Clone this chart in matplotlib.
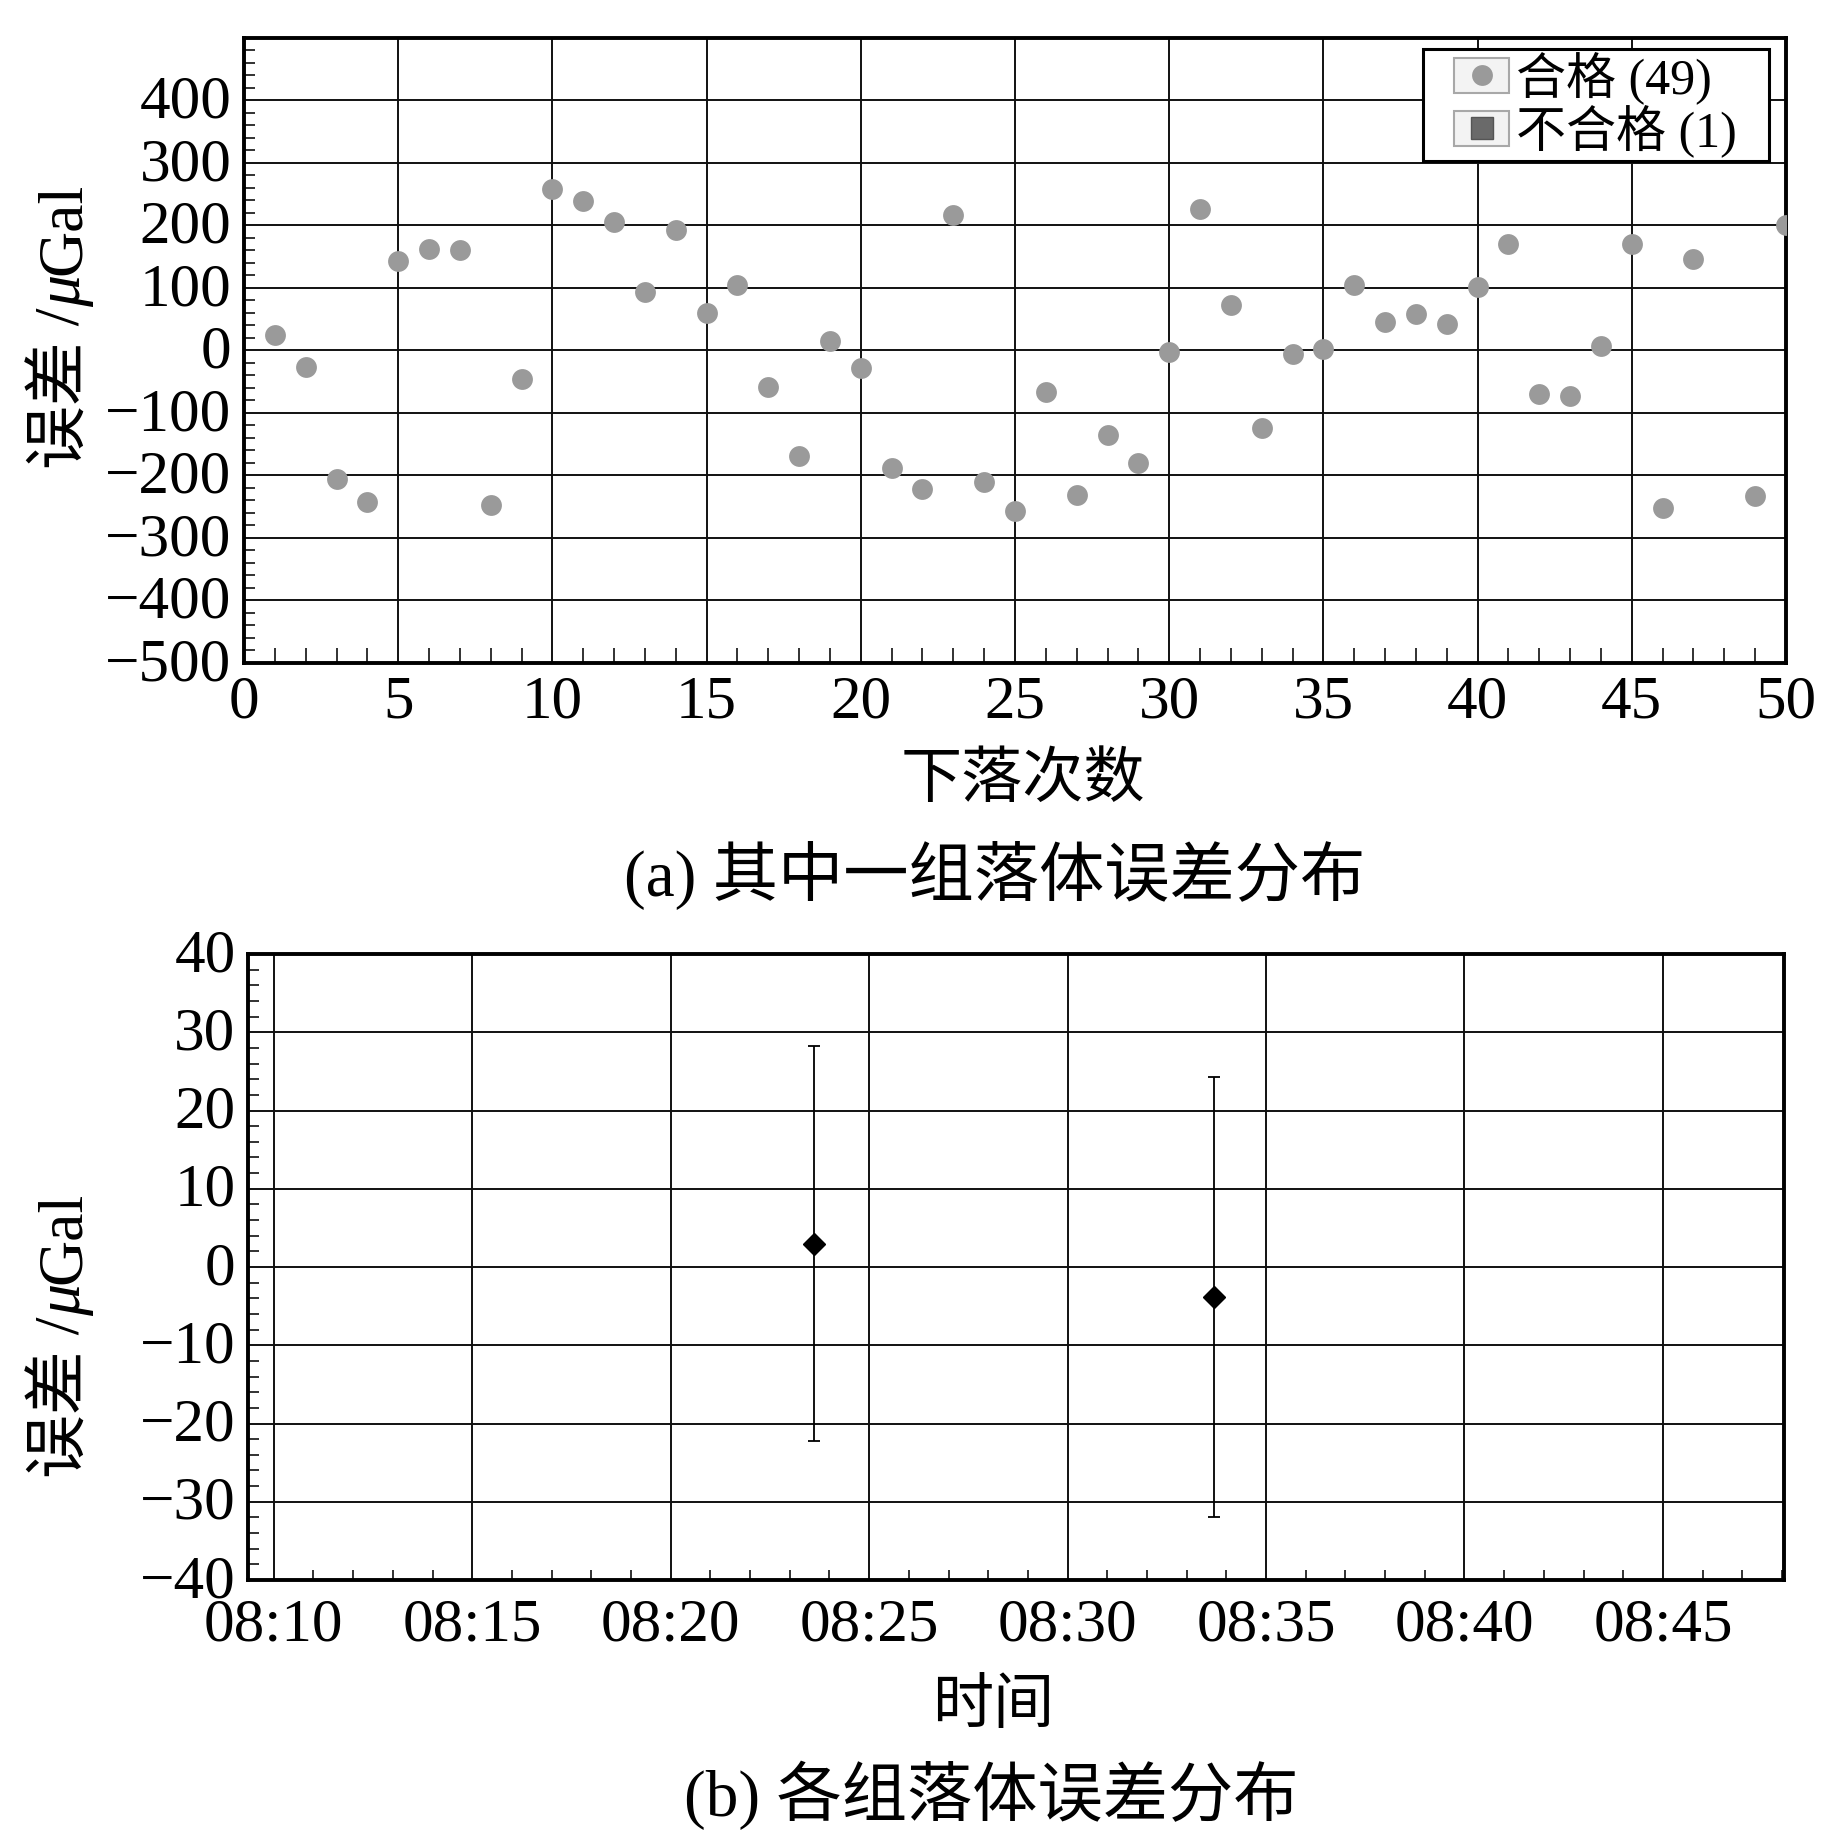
import datetime as dt
import numpy as np
import matplotlib
matplotlib.use("Agg")
import matplotlib.pyplot as plt
import matplotlib.dates as mdates
from matplotlib.patches import Rectangle
from matplotlib.lines import Line2D
from matplotlib.legend_handler import HandlerTuple
from matplotlib.ticker import MultipleLocator
from matplotlib.transforms import ScaledTranslation

FAM = ['Liberation Serif', 'Noto Sans CJK SC']
plt.rcParams['font.family'] = FAM
plt.rcParams['axes.unicode_minus'] = True

# ---------------- data ----------------
drop_index = [1, 2, 3, 4, 5, 6, 7, 8, 9, 10,
              11, 12, 13, 14, 15, 16, 17, 18, 19, 20,
              21, 22, 23, 24, 25, 26, 27, 28, 29, 30,
              31, 32, 33, 34, 35, 36, 37, 38, 39, 40,
              41, 42, 43, 44, 45, 46, 47, 49, 50]
drop_error = [24, -26, -205, -242, 143, 163, 160, -248, -45, 259,
              239, 205, 94, 192, 60, 105, -58, -169, 15, -28,
              -188, -222, 216, -210, -257, -66, -231, -135, -180, -2,
              226, 73, -124, -6, 2, 105, 45, 58, 43, 101,
              170, -70, -73, 7, 171, -252, 147, -233, 201]
legend_labels = ['合格 (49)', '不合格 (1)']

group_times = ['08:23:37', '08:33:41']
group_mean = [3.0, -3.8]
group_err = [25.2, 28.1]

y1_ticks = [-500, -400, -300, -200, -100, 0, 100, 200, 300, 400]
x1_ticks = [0, 5, 10, 15, 20, 25, 30, 35, 40, 45, 50]
y2_ticks = [-40, -30, -20, -10, 0, 10, 20, 30, 40]

# ---------------- figure ----------------
W = H = 1843
fig = plt.figure(figsize=(W / 100, H / 100), dpi=100)
FS = 44
SPW = 2.8


def px(x0, y0, w, h):
    return [x0 / W, 1 - (y0 + h) / H, w / W, h / H]


def style_axes(ax):
    for s in ax.spines.values():
        s.set_linewidth(SPW)
        s.set_color('black')
    ax.tick_params(which='major', length=0, labelsize=FS, pad=9)
    ax.tick_params(which='minor', direction='in', width=1.3, color='#222222')
    ax.grid(True, which='major', color='#111111', linewidth=1.4)
    ax.set_axisbelow(True)
    for lab in ax.get_xticklabels() + ax.get_yticklabels():
        lab.set_family(FAM)
    up = ScaledTranslation(0, 3 / 72, fig.dpi_scale_trans)
    for lab in ax.get_yticklabels():
        lab.set_transform(lab.get_transform() + up)


# ---- (a) ----
ax1 = fig.add_axes(px(244, 38, 1542, 625))
ax1.plot(drop_index, drop_error, 'o', color='#9a9a9a', ms=15, mec='none', zorder=3)
ax1.set_xlim(0, 50)
ax1.set_ylim(-500, 500)
ax1.set_xticks(x1_ticks)
ax1.set_yticks(y1_ticks)
ax1.xaxis.set_minor_locator(MultipleLocator(1))
ax1.yaxis.set_minor_locator(MultipleLocator(20))
style_axes(ax1)
ax1.tick_params(axis='x', which='minor', length=11)
ax1.tick_params(axis='y', which='minor', length=8)

# legend frame (drawn separately to match the wide padding of the original)
frame = Rectangle((1423 / W, 1 - 161 / H), (1769 - 1423) / W, (161 - 49) / H,
                  transform=fig.transFigure, facecolor='white', edgecolor='black',
                  linewidth=2.2, zorder=4.5, clip_on=False)
ax1.add_patch(frame)

h_ok = (Rectangle((0, 0), 1, 1, facecolor='#f3f3f3', edgecolor='#a8a8a8', linewidth=1.5),
        Line2D([], [], marker='o', ls='', color='#9a9a9a', ms=15, mec='none'))
h_bad = (Rectangle((0, 0), 1, 1, facecolor='#f3f3f3', edgecolor='#a8a8a8', linewidth=1.5),
         Line2D([], [], marker='s', ls='', color='#6a6a6a', ms=16, mec='#555555'))
leg = ax1.legend([h_ok, h_bad], legend_labels, handler_map={tuple: HandlerTuple(ndivide=1)},
                 loc='upper left', bbox_to_anchor=(1454 / W, 1 - 51 / H),
                 bbox_transform=fig.transFigure,
                 borderaxespad=0, frameon=False,
                 prop={'family': FAM, 'size': 36}, handlelength=1.1, handleheight=0.7,
                 handletextpad=0.15, labelspacing=0.0, borderpad=0.0)

fig.text(1023 / W, 1 - 782 / H, '下落次数', ha='center', va='center', fontsize=FS, family=FAM)
fig.text(995 / W, 1 - 876 / H, '(a) 其中一组落体误差分布', ha='center', va='center',
         fontsize=47, family=FAM)

# ---- (b) ----
ax2 = fig.add_axes(px(248, 954, 1536, 626))
tdates = [dt.datetime.strptime('2020-01-01 ' + t, '%Y-%m-%d %H:%M:%S') for t in group_times]
ax2.errorbar(tdates, group_mean, yerr=group_err, fmt='D', color='black', ms=11.5,
             capsize=4, elinewidth=1.3, capthick=1.3, zorder=3)
ax2.set_xlim(dt.datetime(2020, 1, 1, 8, 9, 21), dt.datetime(2020, 1, 1, 8, 48, 3))
ax2.set_ylim(-40, 40)
ax2.set_yticks(y2_ticks)
ax2.yaxis.set_minor_locator(MultipleLocator(2))
ax2.xaxis.set_major_locator(mdates.MinuteLocator(byminute=range(0, 60, 5)))
ax2.xaxis.set_minor_locator(mdates.MinuteLocator())
ax2.xaxis.set_major_formatter(mdates.DateFormatter('%H:%M'))
style_axes(ax2)
ax2.tick_params(axis='x', which='major', pad=13)
ax2.tick_params(axis='x', which='minor', length=7)
ax2.tick_params(axis='y', which='minor', length=8)

fig.text(993 / W, 1 - 1708 / H, '时间', ha='center', va='center', fontsize=FS, family=FAM)
fig.text(991 / W, 1 - 1795 / H, '(b) 各组落体误差分布', ha='center', va='center',
         fontsize=47, family=FAM)


# ---- rotated y labels with italic mu ----
def rot_label(xb, yc):
    fig.canvas.draw()
    r = fig.canvas.get_renderer()
    parts = [('误差 /', 'normal'), ('μ', 'italic'), ('Gal', 'normal')]
    objs = []
    for s, st in parts:
        t = fig.text(xb, 0, s, rotation=90, rotation_mode='anchor', ha='left', va='baseline',
                     fontsize=46, family=FAM, style=st)
        objs.append(t)
    hs = [t.get_window_extent(r).height / fig.bbox.height for t in objs]
    y = yc - sum(hs) / 2
    for t, h in zip(objs, hs):
        t.set_position((xb, y))
        y += h


rot_label(80 / W, 1 - 326 / H)
rot_label(80 / W, 1 - 1335 / H)

fig.savefig('out.png', dpi=100)
